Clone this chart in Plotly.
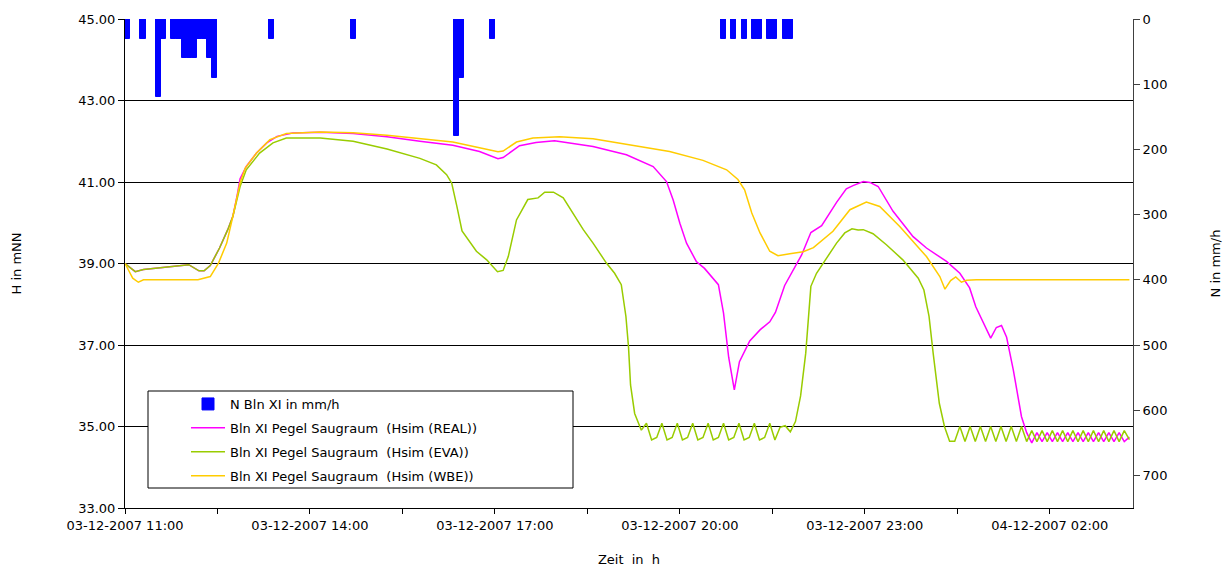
import pandas as pd
import plotly.graph_objects as go

START = pd.Timestamp("2007-12-03 11:00")
END = START + pd.Timedelta(minutes=981)

# ---- Niederschlag N Bln XI (mm/h), 5-min intervals, minutes after 11:00 ----
rain_min = [2.5, 17.5, 32.5, 37.5, 47.5, 52.5, 57.5, 62.5, 67.5, 72.5, 77.5, 82.5, 87.5,
            142.5, 222.5, 322.5, 327.5, 357.5,
            582.5, 592.5, 602.5, 612.5, 617.5, 627.5, 632.5, 642.5, 647.5]
rain_val = [30, 30, 120, 30, 30, 30, 60, 60, 60, 30, 30, 60, 90,
            30, 30, 180, 90, 30,
            30, 30, 30, 30, 30, 30, 30, 30, 30]

# ---- Hsim (REAL) ----
real_min = [0, 10, 18, 62, 72, 77, 83, 92, 100, 105, 109, 112, 118, 128, 138, 148, 163, 190,
            222, 255, 287, 319, 345, 363, 368, 384, 400, 418, 455.5, 488, 514, 527, 533.5, 540,
            546.5, 556, 564, 569.5, 577.5, 582.5, 587.5, 593, 598, 608, 618, 627.5, 633, 642,
            653.5, 658.5, 667.5, 678, 692.5, 702, 708.5, 718.5, 725, 733, 747.5, 767, 780, 799.5,
            812.5, 822, 828, 835, 842.5, 848, 853, 858, 864.5, 872.5, 877.5, 882.5,
            887.5, 892.5, 897.5, 902.5, 907.5, 912.5, 917.5, 922.5, 927.5, 932.5, 937.5,
            942.5, 947.5, 952.5, 957.5, 962.5, 967.5, 972.5, 977.5]
real_val = [39.00, 38.80, 38.85, 38.97, 38.82, 38.82, 38.95, 39.38, 39.83, 40.16, 40.65, 41.08, 41.38,
            41.71, 41.96, 42.12, 42.20, 42.22,
            42.19, 42.11, 42.00, 41.90, 41.75, 41.57, 41.60, 41.89, 41.97, 42.01, 41.87, 41.67,
            41.38, 41.01, 40.56, 39.99,
            39.50, 39.05, 38.88, 38.72, 38.48, 37.78, 36.70, 35.90, 36.59, 37.10, 37.37, 37.57,
            37.80, 38.46,
            38.97, 39.21, 39.76, 39.93, 40.50, 40.83, 40.91, 41.01, 40.99, 40.89, 40.28, 39.66,
            39.38, 39.05,
            38.76, 38.40, 37.94, 37.57, 37.17, 37.43, 37.48, 37.19, 36.39, 35.24, 34.85, 34.60,
            34.85, 34.63, 34.85, 34.63, 34.85, 34.63, 34.85, 34.63, 34.85, 34.63, 34.85,
            34.63, 34.85, 34.63, 34.85, 34.63, 34.85, 34.63, 34.74]

# ---- Hsim (EVA) ----
eva_min = [0, 10, 18, 62, 72, 77, 83, 92, 100, 105, 112, 118, 131, 144, 157, 190, 222, 255,
           287, 303, 313, 318, 323, 328, 342, 352, 362.5, 368, 373, 381, 392, 402, 408.5, 417,
           426.5, 446, 455.5, 468.5, 476.5, 483, 487.5, 490, 492, 496, 502.5,
           507.5, 512.5, 517.5, 522.5, 527.5, 532.5, 537.5, 542.5, 547.5, 552.5, 557.5, 562.5,
           567.5, 572.5, 577.5, 582.5, 587.5, 592.5, 597.5, 602.5, 607.5, 612.5, 617.5, 622.5,
           627.5, 632.5, 637.5, 642.5, 647.5, 652.5, 657.5, 662.5, 667.5,
           673, 682.5, 692.5, 700.5, 707.5, 713.5, 718.5, 728, 741, 757, 772, 777.5, 782.5,
           786.5, 792.5, 797.5, 802.5, 807.5,
           812.5, 817.5, 822.5, 827.5, 832.5, 837.5, 842.5, 847.5, 852.5, 857.5, 862.5, 867.5,
           872.5, 877.5, 882.5, 887.5, 892.5, 897.5, 902.5, 907.5, 912.5, 917.5, 922.5, 927.5,
           932.5, 937.5, 942.5, 947.5, 952.5, 957.5, 962.5, 967.5, 972.5, 977.5]
eva_val = [39.00, 38.80, 38.85, 38.97, 38.82, 38.82, 38.95, 39.38, 39.83, 40.16, 40.89, 41.30,
           41.71, 41.96, 42.08, 42.08, 42.00, 41.81,
           41.58, 41.42, 41.18, 40.97, 40.40, 39.80, 39.30, 39.09, 38.80, 38.83, 39.17, 40.07,
           40.57, 40.61, 40.75, 40.75,
           40.61, 39.83, 39.50, 39.01, 38.76, 38.48, 37.70, 36.96, 36.02, 35.32, 34.91,
           35.08, 34.67, 34.73, 35.08, 34.67, 34.73, 35.08, 34.67, 34.73, 35.08, 34.67, 34.73,
           35.08, 34.67, 34.73, 35.08, 34.67, 34.73, 35.08, 34.67, 34.73, 35.08, 34.67, 34.73,
           35.08, 34.67, 34.98, 35.02, 34.87, 35.12, 35.75, 36.80, 38.44,
           38.76, 39.13, 39.50, 39.75, 39.85, 39.82, 39.83, 39.73, 39.46, 39.09, 38.64, 38.35,
           37.70, 36.80, 35.57, 35.00, 34.64, 34.64,
           35.00, 34.63, 35.00, 34.63, 35.00, 34.63, 35.00, 34.63, 35.00, 34.63, 35.00, 34.63,
           35.00, 34.63, 34.90, 34.63, 34.90, 34.63, 34.90, 34.63, 34.90, 34.63, 34.90, 34.63,
           34.90, 34.63, 34.90, 34.63, 34.90, 34.63, 34.90, 34.63, 34.90, 34.68]

# ---- Hsim (WBE) ----
wbe_min = [0, 7.5, 13, 18, 71, 83, 91, 99, 105, 112, 117, 128, 141, 157, 190, 222, 255, 287,
           319, 345, 363, 368, 381, 397, 423, 455.5, 498, 530, 562.5, 585.5, 596.5, 603, 610,
           618, 627.5, 635.5, 647, 660, 670, 683, 689, 705.5, 721.5, 734.5, 754, 780, 793,
           798, 803.5, 808.5, 814, 819, 828.5, 977.5]
wbe_val = [39.00, 38.64, 38.54, 38.60, 38.60, 38.68, 39.01, 39.50, 40.16, 40.98, 41.34, 41.71,
           42.04, 42.19, 42.23, 42.21, 42.15, 42.07,
           41.98, 41.84, 41.74, 41.76, 41.98, 42.08, 42.11, 42.06, 41.89, 41.75, 41.53, 41.30,
           41.06, 40.81, 40.24,
           39.75, 39.30, 39.19, 39.24, 39.29, 39.39, 39.66, 39.79, 40.32, 40.51, 40.40, 39.91,
           39.17, 38.68,
           38.37, 38.58, 38.67, 38.54, 38.59, 38.60, 38.60]


def to_time(minutes):
    return [START + pd.Timedelta(minutes=m) for m in minutes]


FONT = "DejaVu Sans"
FS = 13

fig = go.Figure()
fig.add_trace(go.Bar(
    x=to_time(rain_min), y=rain_val, width=5 * 60 * 1000, yaxis="y2",
    name="N Bln XI in mm/h", marker=dict(color="#0000FF", line=dict(color="#0000FF", width=1)),
    legendgroup="a"))
fig.add_trace(go.Scatter(
    x=to_time(real_min), y=real_val, mode="lines", name="Bln XI Pegel Saugraum  (Hsim (REAL))",
    line=dict(color="#FF00FF", width=1.5), legendgroup="b"))
fig.add_trace(go.Scatter(
    x=to_time(eva_min), y=eva_val, mode="lines", name="Bln XI Pegel Saugraum  (Hsim (EVA))",
    line=dict(color="#99CC00", width=1.5), legendgroup="c"))
fig.add_trace(go.Scatter(
    x=to_time(wbe_min), y=wbe_val, mode="lines", name="Bln XI Pegel Saugraum  (Hsim (WBE))",
    line=dict(color="#FFCC00", width=1.5), legendgroup="d"))

PW, PH = 1008, 489  # plot area size in px (for legend box placement)
T0 = START.strftime("%Y-%m-%d %H:%M:%S")

fig.update_layout(
    width=1231, height=567,
    margin=dict(l=125, r=98, t=19, b=59, autoexpand=False),
    paper_bgcolor="white", plot_bgcolor="white",
    font=dict(family=FONT, size=FS, color="black"),
    bargap=0,
    showlegend=True,
    legend=dict(
        x=(186 - 125) / PW, y=(508 - 389) / PH, xanchor="left", yanchor="top",
        bgcolor="rgba(0,0,0,0)", borderwidth=0, itemwidth=34, tracegroupgap=4,
        font=dict(family=FONT, size=FS, color="black")),
    shapes=[dict(type="rect", xref="paper", yref="paper",
                 x0=(148 - 125) / PW, x1=(573 - 125) / PW,
                 y0=(508 - 488) / PH, y1=(508 - 391) / PH,
                 line=dict(color="black", width=1), fillcolor="white", layer="above")],
    xaxis=dict(
        type="date", automargin=False,
        range=[T0, END.strftime("%Y-%m-%d %H:%M:%S")],
        tick0=T0, dtick=3 * 3600 * 1000,
        tickformat="%d-%m-%Y %H:%M", ticks="outside", ticklen=5, tickcolor="black",
        showline=True, linecolor="black", linewidth=1, showgrid=False, zeroline=False,
        minor=dict(dtick=1.5 * 3600 * 1000, tick0=T0,
                   ticks="outside", ticklen=5, tickcolor="black", showgrid=False),
        title=dict(text="Zeit  in  h", standoff=23, font=dict(family=FONT, size=FS)),
        tickfont=dict(family=FONT, size=FS, color="black"),
    ),
    yaxis=dict(
        range=[33, 45], tick0=33, dtick=2, tickformat=".2f", automargin=False,
        showgrid=True, gridcolor="black", gridwidth=1, zeroline=False,
        showline=True, linecolor="black", linewidth=1,
        ticks="outside", ticklen=6, tickcolor="black",
        title=dict(text="H in mNN", standoff=53, font=dict(family=FONT, size=FS)),
        tickfont=dict(family=FONT, size=FS, color="black"),
    ),
    yaxis2=dict(
        overlaying="y", side="right", range=[750, 0], tick0=0, dtick=100, automargin=False,
        showgrid=False, zeroline=False, showline=True, linecolor="#404040", linewidth=1,
        ticks="outside", ticklen=6, tickcolor="#404040",
        title=dict(text="N in mm/h", standoff=44, font=dict(family=FONT, size=FS)),
        tickfont=dict(family=FONT, size=FS, color="black"),
    ),
)

fig.write_html("out.html", config={"displayModeBar": False},
               post_script="document.body.style.margin='0px';")
